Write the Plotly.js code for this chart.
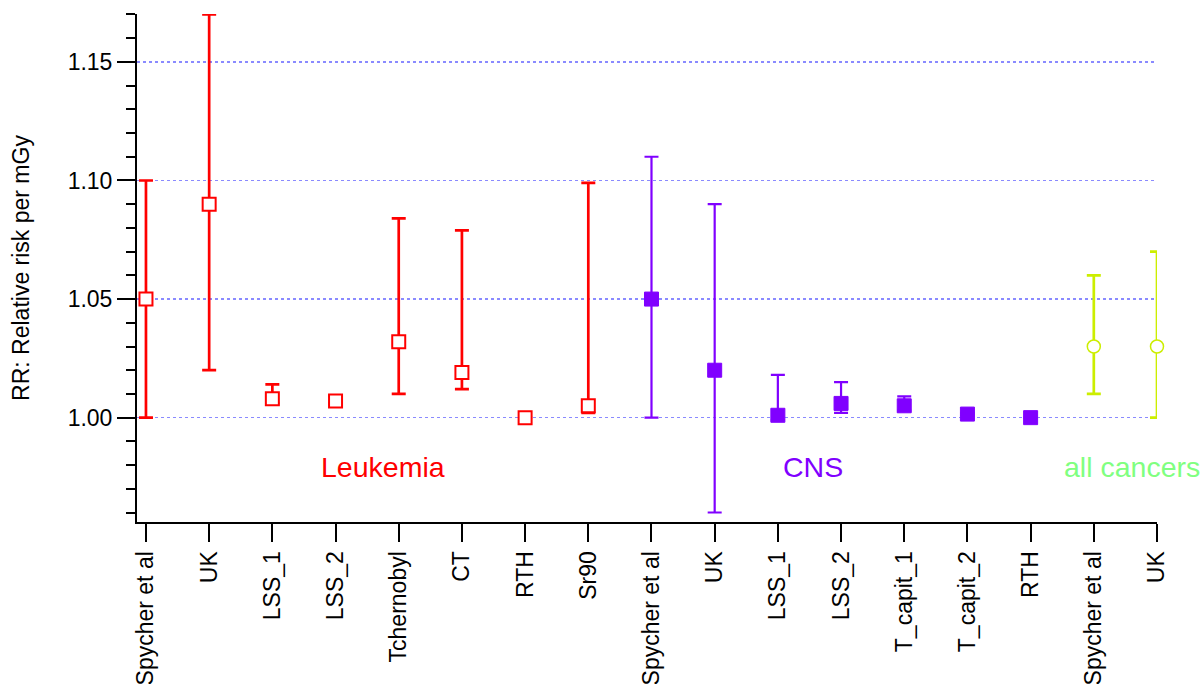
<!DOCTYPE html>
<html>
<head>
<meta charset="utf-8">
<script src="https://cdn.plot.ly/plotly-3.0.1.min.js"></script>
<style>html,body{margin:0;padding:0;background:#fff;}</style>
</head>
<body>
<div id="chart" style="width:1201px;height:684px;"></div>
<script>
// Category labels along the x axis (in order)
const categories = ["Spycher et al","UK","LSS_1","LSS_2","Tchernobyl","CT","RTH","Sr90",
                    "Spycher et al","UK","LSS_1","LSS_2","T_capit_1","T_capit_2","RTH",
                    "Spycher et al","UK"];

// Leukemia (first 8 categories)
const leukRR    = [1.050, 1.090, 1.008, 1.007, 1.032, 1.019, 1.000, 1.005];
const leukUpper = [1.100, 1.170, 1.014, 1.009, 1.084, 1.079, 1.000, 1.099];
const leukLower = [1.000, 1.020, 1.006, 1.006, 1.010, 1.012, 1.000, 1.002];

// CNS (next 7 categories)
const cnsRR    = [1.050, 1.020, 1.001, 1.006, 1.005, 1.0015, 1.000];
const cnsUpper = [1.110, 1.090, 1.018, 1.015, 1.009, 1.002, 1.000];
const cnsLower = [1.000, 0.960, 0.999, 1.002, 1.003, 1.001, 1.000];

// All cancers (last 2 categories)
const allRR    = [1.030, 1.030];
const allUpper = [1.060, 1.070];
const allLower = [1.010, 1.000];

const idx = categories.map((_, i) => i);
const xLeuk = idx.slice(0, leukRR.length);
const xCns  = idx.slice(leukRR.length, leukRR.length + cnsRR.length);
const xAll  = idx.slice(leukRR.length + cnsRR.length);

const plus  = (v, u) => v.map((d, i) => +(u[i] - d).toFixed(5));
const minus = (v, l) => v.map((d, i) => +(d - l[i]).toFixed(5));

const RED = "#ff0000", PURPLE = "#8000ff", LIME = "#ccee00";

const traces = [
  {
    x: xLeuk, y: leukRR, type: "scatter", mode: "markers", cliponaxis: false,
    marker: {symbol: "square", size: 13, color: "#ffffff", line: {color: RED, width: 2}},
    error_y: {type: "data", symmetric: false, array: plus(leukRR, leukUpper),
              arrayminus: minus(leukRR, leukLower), color: RED, thickness: 2.7, width: 7},
    showlegend: false, hoverinfo: "skip"
  },
  {
    x: xCns, y: cnsRR, type: "scatter", mode: "markers", cliponaxis: false,
    marker: {symbol: "square", size: 14, color: PURPLE, line: {color: PURPLE, width: 1}},
    error_y: {type: "data", symmetric: false, array: plus(cnsRR, cnsUpper),
              arrayminus: minus(cnsRR, cnsLower), color: PURPLE, thickness: 2.2, width: 7},
    showlegend: false, hoverinfo: "skip"
  },
  {
    x: xAll, y: allRR, type: "scatter", mode: "markers", cliponaxis: false,
    marker: {symbol: "circle", size: 13, color: "#ffffff", line: {color: LIME, width: 1.5}},
    error_y: {type: "data", symmetric: false, array: plus(allRR, allUpper),
              arrayminus: minus(allRR, allLower), color: LIME, thickness: 2.7, width: 7},
    showlegend: false, hoverinfo: "skip"
  }
];

const FONT = "Liberation Sans, Arial, sans-serif";

const layout = {
  width: 1201, height: 684,
  margin: {l: 137, r: 44, t: 14, b: 162, pad: 0},
  paper_bgcolor: "#ffffff", plot_bgcolor: "#ffffff",
  font: {family: FONT, size: 23, color: "#000000"},
  showlegend: false,
  xaxis: {
    range: [-0.142, 16], tickmode: "array", tickvals: idx, ticktext: categories,
    tickangle: -90, ticks: "outside", ticklen: 18, tickwidth: 2, tickcolor: "#000",
    showline: true, linewidth: 2, linecolor: "#000", showgrid: false, zeroline: false,
    tickfont: {family: FONT, size: 23, color: "#000"}
  },
  yaxis: {
    range: [0.956, 1.1702], tick0: 1, dtick: 0.05, tickformat: ".2f",
    ticks: "outside", ticklen: 18, tickwidth: 2, tickcolor: "#000",
    showline: true, linewidth: 2, linecolor: "#000", zeroline: false,
    showgrid: true, gridcolor: "#8a8aff", gridwidth: 1.2, griddash: "dot",
    tickfont: {family: FONT, size: 23, color: "#000"},
    minor: {dtick: 0.01, tick0: 1, ticks: "outside", ticklen: 9, tickwidth: 2, tickcolor: "#000", showgrid: false},
    title: {text: "RR: Relative risk per mGy", font: {family: FONT, size: 23, color: "#000"}, standoff: 32}
  },
  annotations: [
    {text: "Leukemia", x: 3.75, y: 0.9794, xref: "x", yref: "y", showarrow: false,
     font: {family: FONT, size: 28.5, color: RED}},
    {text: "CNS", x: 10.55, y: 0.9794, xref: "x", yref: "y", showarrow: false,
     font: {family: FONT, size: 28.5, color: PURPLE}},
    {text: "all cancers", x: 15.6, y: 0.9794, xref: "x", yref: "y", showarrow: false,
     font: {family: FONT, size: 28.5, color: "#80ff80"}}
  ]
};

Plotly.newPlot("chart", traces, layout, {displayModeBar: false, staticPlot: true});
</script>
</body>
</html>
